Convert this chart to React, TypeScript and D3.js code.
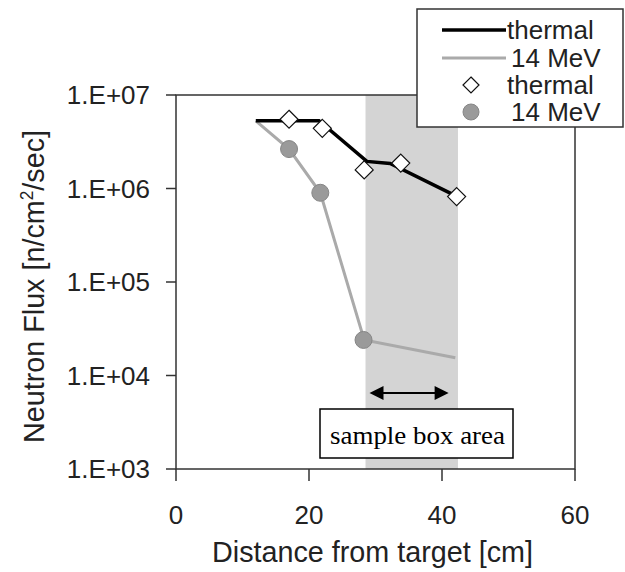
import React from "react";
import * as d3 from "d3";

// thermal neutron flux – line and measured points
const thermalLineX = [12, 21.5, 28.7, 32.2, 42];
const thermalLineY = [5.3e6, 5.3e6, 1.95e6, 1.85e6, 8.4e5];
const thermalPtsX = [17, 22, 28.3, 33.8, 42.2];
const thermalPtsY = [5.5e6, 4.4e6, 1.58e6, 1.87e6, 8.2e5];

// 14 MeV neutron flux
const fastLineX = [12, 17, 21.7, 28.3, 42];
const fastLineY = [5.3e6, 2.64e6, 9.0e5, 2.4e4, 1.55e4];
const fastPtsX = [17, 21.7, 28.2];
const fastPtsY = [2.64e6, 9.0e5, 2.4e4];

const xTicks = [0, 20, 40, 60];
const yTicks = [1e3, 1e4, 1e5, 1e6, 1e7];
const yTickLabels = ["1.E+03", "1.E+04", "1.E+05", "1.E+06", "1.E+07"];

const sampleArea = [28.5, 42.4];
const arrowX = [29.1, 41];
const arrowY = 6.5e3;

const legendLabels = ["thermal", "14 MeV", "thermal", "14 MeV"];

const W = 625;
const H = 572;
const left = 176;
const right = 575;
const top = 95;
const bottom = 469;
const font = "'Liberation Sans', Arial, sans-serif";
const axisColor = "#333";

const App = () => {
  const x = d3.scaleLinear().domain([0, 60]).range([left, right]);
  const y = d3.scaleLog().domain([1e3, 1e7]).range([bottom, top]);

  const line = d3
    .line<[number, number]>()
    .x((d) => x(d[0]))
    .y((d) => y(d[1]));

  const thermalPath = line(thermalLineX.map((v, i) => [v, thermalLineY[i]]));
  const fastPath = line(fastLineX.map((v, i) => [v, fastLineY[i]]));

  const diamond = (cx: number, cy: number, r: number) =>
    `M${cx},${cy - r}L${cx + r},${cy}L${cx},${cy + r}L${cx - r},${cy}Z`;

  const ax0 = x(arrowX[0]);
  const ax1 = x(arrowX[1]);
  const ay = y(arrowY);

  return (
    <svg
      width={W}
      height={H}
      style={{ position: "absolute", left: 0, top: 0, background: "#fff" }}
      fontFamily={font}
    >
      {/* shaded sample region */}
      <rect
        x={x(sampleArea[0])}
        y={top}
        width={x(sampleArea[1]) - x(sampleArea[0])}
        height={bottom - top}
        fill="#d4d4d4"
      />

      {/* frame */}
      <rect
        x={left}
        y={top}
        width={right - left}
        height={bottom - top}
        fill="none"
        stroke={axisColor}
        strokeWidth={1.5}
      />

      {/* y ticks */}
      {yTicks.map((t, i) => (
        <g key={t}>
          <line x1={left - 10} x2={left} y1={y(t)} y2={y(t)} stroke={axisColor} strokeWidth={1.5} />
          <text x={150} y={y(t)} dy="0.36em" textAnchor="end" fontSize={26} fill="#222">
            {yTickLabels[i]}
          </text>
        </g>
      ))}

      {/* x ticks */}
      {xTicks.map((t) => (
        <g key={t}>
          <line x1={x(t)} x2={x(t)} y1={bottom} y2={bottom + 12} stroke={axisColor} strokeWidth={1.5} />
          <text x={x(t)} y={524} textAnchor="middle" fontSize={26} fill="#222">
            {t}
          </text>
        </g>
      ))}

      <text
        x={372.5}
        y={562}
        textAnchor="middle"
        fontSize={30}
        fill="#222"
        textLength={321}
        lengthAdjust="spacingAndGlyphs"
      >
        Distance from target [cm]
      </text>
      <text
        transform={`translate(44,286.5) rotate(-90)`}
        textAnchor="middle"
        fontSize={30}
        fill="#222"
        textLength={313}
        lengthAdjust="spacingAndGlyphs"
      >
        Neutron Flux [n/cm
        <tspan fontSize={18} dy={-11}>2</tspan>
        <tspan dy={11}>/sec]</tspan>
      </text>

      {/* series lines */}
      <path d={fastPath ?? ""} fill="none" stroke="#aaa" strokeWidth={3} />
      <path d={thermalPath ?? ""} fill="none" stroke="#000" strokeWidth={3.5} />

      {/* markers */}
      {fastPtsX.map((v, i) => (
        <circle
          key={"f" + i}
          cx={x(v)}
          cy={y(fastPtsY[i])}
          r={8.5}
          fill="#9a9a9a"
          stroke="#868686"
          strokeWidth={1}
        />
      ))}
      {thermalPtsX.map((v, i) => (
        <path
          key={"t" + i}
          d={diamond(x(v), y(thermalPtsY[i]), 9)}
          fill="#fff"
          stroke="#111"
          strokeWidth={1.2}
        />
      ))}

      {/* arrow */}
      <line x1={ax0 + 10} x2={ax1 - 10} y1={ay} y2={ay} stroke="#000" strokeWidth={2} />
      <path d={`M${ax0},${ay}L${ax0 + 14},${ay - 7}L${ax0 + 14},${ay + 7}Z`} fill="#000" />
      <path d={`M${ax1},${ay}L${ax1 - 14},${ay - 7}L${ax1 - 14},${ay + 7}Z`} fill="#000" />

      {/* annotation box */}
      <rect x={320} y={409} width={193} height={49} fill="#fff" stroke="#000" strokeWidth={1.5} />
      <text
        x={330}
        y={444}
        fontSize={26}
        fontFamily="'Liberation Serif', 'Times New Roman', serif"
        fill="#000"
        textLength={175}
        lengthAdjust="spacingAndGlyphs"
      >
        sample box area
      </text>

      {/* legend */}
      <rect x={417} y={9} width={206} height={118} fill="#fff" stroke={axisColor} strokeWidth={1.5} />
      <line x1={442} x2={506} y1={30} y2={30} stroke="#000" strokeWidth={3.5} />
      <line x1={442} x2={506} y1={58} y2={58} stroke="#aaa" strokeWidth={3} />
      <path d={diamond(471, 85, 8)} fill="#fff" stroke="#111" strokeWidth={1.2} />
      <circle cx={471} cy={112} r={8} fill="#9a9a9a" stroke="#868686" strokeWidth={1} />
      {legendLabels.map((l, i) => (
        <text
          key={i}
          x={i % 2 === 0 ? 507 : 511}
          y={30 + i * 27.3}
          dy="0.36em"
          fontSize={26}
          fill="#222"
        >
          {l}
        </text>
      ))}
    </svg>
  );
};

export default App;
